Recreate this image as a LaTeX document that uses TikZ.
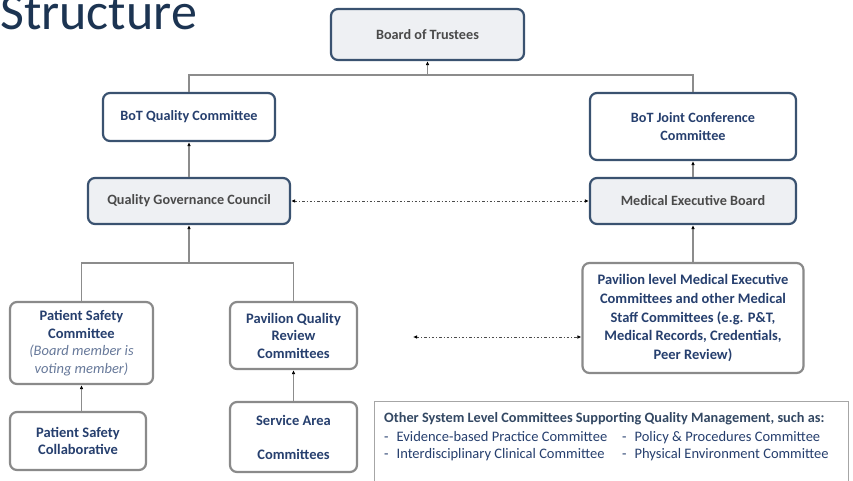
\documentclass[tikz,border=0pt]{standalone}
\usepackage{fontspec}
\setmainfont{Carlito}
\usetikzlibrary{arrows.meta}
\definecolor{navyline}{HTML}{3A5270}
\definecolor{grayline}{HTML}{8A8A8A}
\definecolor{linkgray}{HTML}{8C8C8C}
\definecolor{boxfill}{HTML}{EEF0F3}
\definecolor{textnavy}{HTML}{263F6E}
\definecolor{textgray}{HTML}{4A4A4A}
\definecolor{titlenavy}{HTML}{1C3452}
\tikzset{
  orgbox/.style={draw=navyline, line width=2.2pt, rounded corners=7pt, align=center,
    font=\fontsize{14.2}{18.5}\selectfont\bfseries, inner sep=2pt},
  shadedbox/.style={orgbox, fill=boxfill, text=textgray},
  plainbox/.style={orgbox, fill=white, text=textnavy},
  subbox/.style={orgbox, draw=grayline, fill=white, text=textnavy,
    font=\fontsize{14.5}{17.5}\selectfont\bfseries},
  link/.style={draw=linkgray, line width=1.4pt},
  upto/.style={link, -{Latex[length=4pt,width=3.6pt,black]}},
  dotlink/.style={draw=black!70, line width=1pt,
    dash pattern=on 2.5pt off 2pt on 1pt off 2pt,
    {Latex[length=4pt,width=3.6pt,black]}-{Latex[length=4pt,width=3.6pt,black]}}
}
\begin{document}
\begin{tikzpicture}[x=1pt,y=-1pt]
\useasboundingbox (0,0) rectangle (853,481);
\fill[white] (0,0) rectangle (853,481);

% heading
\node[anchor=base west, inner sep=0, text=titlenavy,
  font=\fontsize{52}{52}\selectfont] (title) at (0,30) {Structure};

% upper tier
\node[shadedbox, minimum width=193pt, minimum height=51pt] (bot) at (427.5,34.5) {Board of Trustees};
\node[plainbox, minimum width=172pt, minimum height=48pt] (botqc) at (189,117) {BoT Quality Committee};
\node[plainbox, minimum width=206pt, minimum height=67pt] (botjc) at (693,126.5) {BoT Joint Conference\\Committee};
\node[shadedbox, minimum width=202pt, minimum height=46pt] (qgc) at (189,201) {Quality Governance Council};
\node[shadedbox, minimum width=206pt, minimum height=46pt] (meb) at (693,201) {Medical Executive Board};

% lower tier
\node[subbox, minimum width=143pt, minimum height=82pt] (psc) at (81.5,343)
  {Patient Safety\\Committee\\{\mdseries\itshape\color{textnavy!70}(Board member is}\\{\mdseries\itshape\color{textnavy!70}voting member)}};
\node[subbox, minimum width=127pt, minimum height=67pt] (pqr) at (293.5,335.5) {Pavilion Quality\\Review\\Committees};
\node[subbox, minimum width=136pt, minimum height=58pt] (pscol) at (78,441) {Patient Safety\\Collaborative};
\node[subbox, minimum width=127pt, minimum height=70pt, font=\fontsize{14.5}{17}\selectfont\bfseries] (sac) at (293.5,437) {Service Area\\[17pt]Committees};
\node[subbox, minimum width=221pt, minimum height=110pt, font=\fontsize{14.5}{18.7}\selectfont\bfseries] (pmec) at (693,318)
  {Pavilion level Medical Executive\\Committees and other Medical\\Staff Committees (e.g. P\&T,\\Medical Records, Credentials,\\Peer Review)};

% supporting committees panel
\node[draw=black!35, line width=0.8pt, minimum width=474pt, minimum height=80pt,
  inner sep=0] (other) at (611,441) {};
\node[anchor=west, inner sep=0, text=titlenavy!90, font=\fontsize{14.3}{16}\selectfont\bfseries]
  (othertitle) at (384,419) {Other System Level Committees Supporting Quality Management, such as:};
\node[anchor=west, inner sep=0, text=textnavy, font=\fontsize{14.5}{16.5}\selectfont, align=left]
  (colA) at (384,446) {-\hspace{8pt}Evidence-based Practice Committee\\-\hspace{8pt}Interdisciplinary Clinical Committee};
\node[anchor=west, inner sep=0, text=textnavy, font=\fontsize{14.5}{16.5}\selectfont, align=left]
  (colB) at (622,446) {-\hspace{8pt}Policy \& Procedures Committee\\-\hspace{8pt}Physical Environment Committee};

% reporting lines
\coordinate (topbar) at (427.5,75);
\draw[link] (botqc.north) |- (topbar) -| (botjc.north);
\draw[upto] (topbar) -- (bot.south);
\draw[upto] (qgc.north) -- (botqc.south);
\draw[upto] (meb.north) -- (botjc.south);
\coordinate (lowbar) at (189,263);
\draw[link] (psc.north) |- (lowbar) -| (pqr.north);
\draw[upto] (lowbar) -- (qgc.south);
\draw[upto] (pmec.north) -- (meb.south);
\draw[upto] (pscol.north -| psc.south) -- (psc.south);
\draw[upto] (sac.north) -- (pqr.south);

% liaison lines
\draw[dotlink] (qgc.east) -- (meb.west);
\coordinate (liaison) at (413,337);
\draw[dotlink] (liaison) -- (pmec.west |- liaison);
\end{tikzpicture}
\end{document}
